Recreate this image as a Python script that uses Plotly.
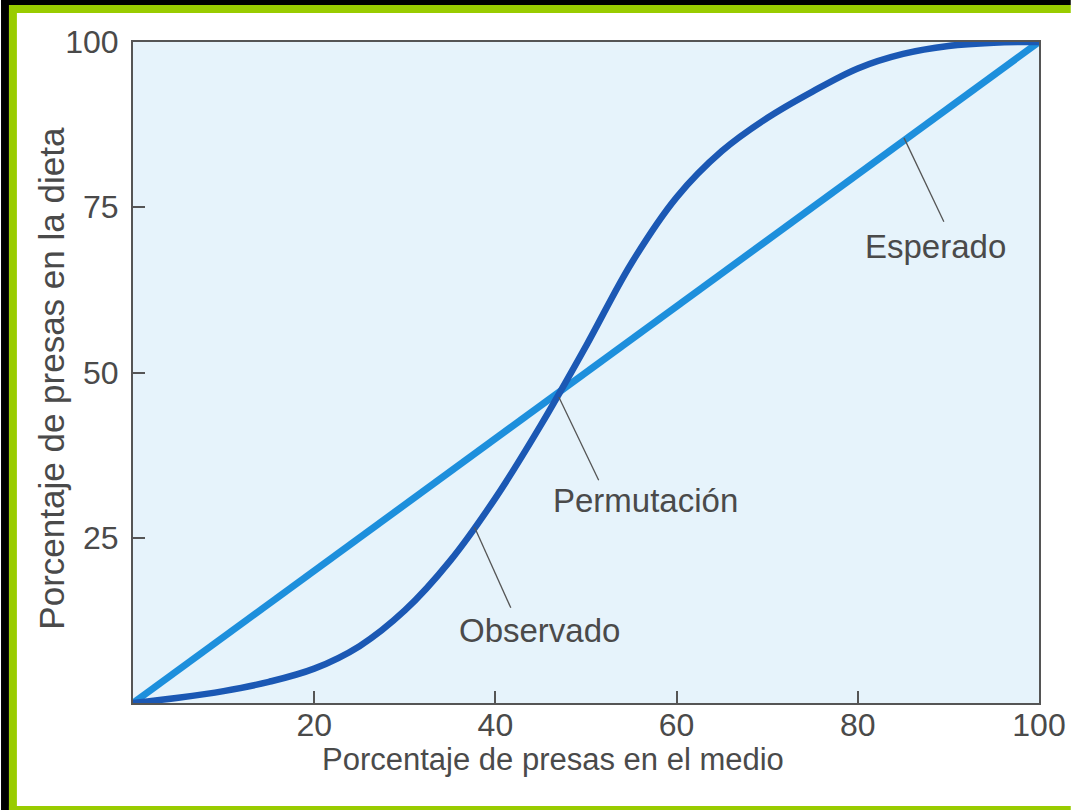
import plotly.graph_objects as go

# porcentaje de presas en el medio (x) vs en la dieta (y)
esperado_x = [0, 100]
esperado_y = [0, 100]

observado_x = [0, 5, 10, 15, 20, 25, 30, 35, 40, 45, 50, 55, 60, 65, 70, 75, 80, 85, 90, 95, 100]
observado_y = [0, 0.8, 1.8, 3.2, 5.2, 8.6, 14, 21.5, 31, 42, 54, 66.5, 76.5, 83.5, 88.5, 92.5, 96, 98.2, 99.4, 99.9, 100]

x_ticks = [20, 40, 60, 80, 100]
y_ticks = [25, 50, 75, 100]

# etiquetas: texto, punto de la curva, extremo del trazo, posicion del texto
labels = [
    ("Esperado", (85.1, 85.5), (89.5, 72.8), (88.6, 69.1)),
    ("Permutación", (47.0, 46.3), (51.4, 33.7), (56.6, 30.7)),
    ("Observado", (37.7, 26.6), (41.7, 14.4), (44.9, 11.0)),
]

W, H = 1078, 810
L, R, T, B = 133, 32, 42, 107
FONT = "Liberation Sans, Arial, sans-serif"
GRAY = "#4a4a4a"

fig = go.Figure()
fig.add_trace(go.Scatter(x=esperado_x, y=esperado_y, mode="lines",
                         line=dict(color="#1d8fdc", width=7), name="Esperado"))
fig.add_trace(go.Scatter(x=observado_x, y=observado_y, mode="lines",
                         line=dict(color="#1b58b4", width=6.5, shape="spline", smoothing=1),
                         name="Observado"))

for text, (x0, y0), (x1, y1), (tx, ty) in labels:
    fig.add_shape(type="line", x0=x0, y0=y0, x1=x1, y1=y1, xref="x", yref="y",
                  line=dict(color="#555555", width=1.3))
    fig.add_annotation(x=tx, y=ty, text=text, showarrow=False,
                       xanchor="center", yanchor="middle",
                       font=dict(family=FONT, size=33, color=GRAY))


def px(x):
    return (x - L) / (W - L - R)


def py(y):
    return (H - B - y) / (H - T - B)


# marco negro / verde alrededor de la pagina
frame = [
    ("black", 0, 0, W, 5),
    ("#99cc00", 0, 5, W, 13),
    ("black", 0, 0, 8, H),
    ("#99cc00", 8, 5, 16, H),
    ("#99cc00", 8, 806, W, H),
]
for col, xa, ya, xb, yb in frame:
    fig.add_shape(type="rect", xref="paper", yref="paper",
                  x0=px(xa), x1=px(xb), y0=py(yb), y1=py(ya),
                  fillcolor=col, line=dict(width=0), layer="above")

fig.add_annotation(xref="paper", yref="paper", x=px(556), y=py(759),
                   xanchor="center", yanchor="middle",
                   text="Porcentaje de presas en el medio", showarrow=False,
                   font=dict(family=FONT, size=31, color=GRAY))
fig.add_annotation(xref="paper", yref="paper", x=px(50), y=py(378),
                   xanchor="center", yanchor="middle",
                   text="Porcentaje de presas en la dieta", showarrow=False, textangle=-90,
                   font=dict(family=FONT, size=35, color=GRAY))

axis = dict(showline=True, linecolor="#555555", linewidth=2, mirror=True,
            ticks="inside", ticklen=12, tickwidth=1.5, tickcolor="#555555",
            showgrid=False, zeroline=False,
            tickfont=dict(family=FONT, size=32, color=GRAY))
fig.update_xaxes(range=[0, 100], tickvals=x_ticks, ticklabelstandoff=-7, **axis)
fig.update_yaxes(range=[0, 100], tickvals=y_ticks, ticklabelstandoff=6, **axis)

fig.update_layout(
    width=W, height=H, showlegend=False, autosize=False,
    margin=dict(l=L, r=R, t=T, b=B),
    paper_bgcolor="white", plot_bgcolor="#e6f3fb",
)
page_css = ("document.documentElement.style.margin='0';"
            "document.documentElement.style.overflow='hidden';"
            "document.body.style.margin='0';"
            "document.body.style.overflow='hidden';")
fig.write_html("out.html", config={"responsive": False, "displayModeBar": False},
               post_script=page_css)
